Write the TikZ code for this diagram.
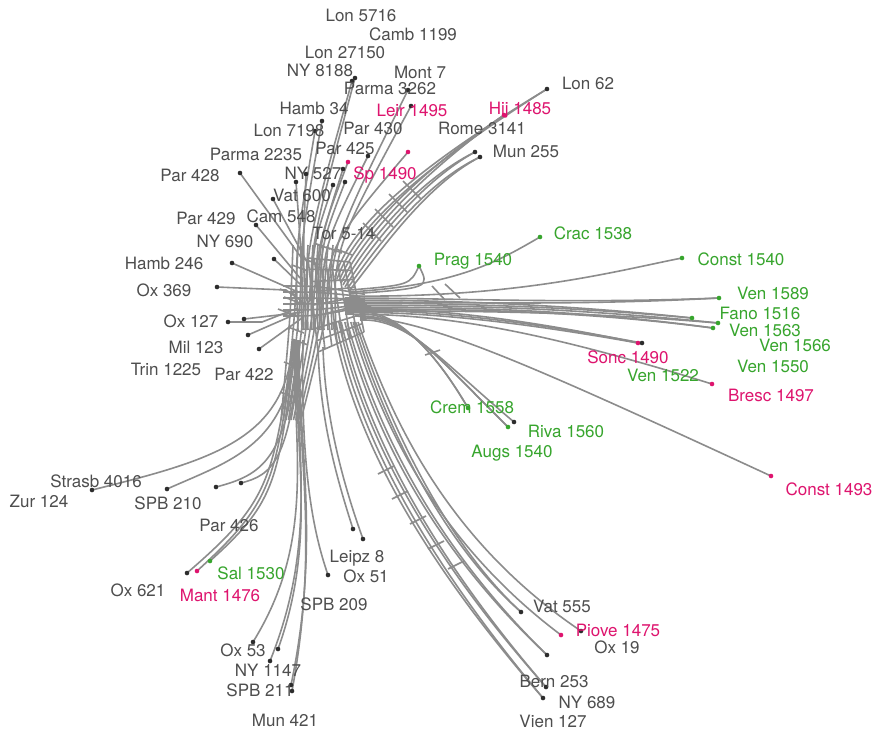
\documentclass[tikz,border=0pt]{standalone}
\usepackage{fontspec}
\setmainfont{TeX Gyre Heros}
\usetikzlibrary{calc}
\definecolor{lnk}{RGB}{140,140,140}
\definecolor{dk}{RGB}{45,45,45}
\definecolor{txt}{RGB}{78,78,78}
\definecolor{mag}{RGB}{222,20,110}
\definecolor{grn}{RGB}{55,165,45}
\tikzset{
  lk/.style={draw=lnk,line width=1.6pt},
  leafdot/.style={circle,inner sep=0pt,minimum size=4.6pt,fill=#1},
  leafdot/.default=dk,
  lab/.style={inner sep=0pt,font=\fontsize{17}{19}\selectfont,text=#1},
  lab/.default=txt,
}
\begin{document}
\begin{tikzpicture}[x=1pt,y=-1pt]
\path[use as bounding box,fill=white] (0,0) rectangle (877,732);
% ---------- hubs ----------
\coordinate (hC) at (318,300);
\coordinate (hT) at (315,250);
\coordinate (hR) at (370,300);
\coordinate (hD) at (292,400);
\coordinate (mTL) at (308,258);
\coordinate (mTR) at (350,262);
\coordinate (mBL) at (318,352);
\coordinate (mBR) at (364,332);
% ---------- leaves ----------
\foreach \n/\x/\y in {
 t1/355/78, t2/352/81, t3/408/90, t4/411/106, t5/322/121, t6/315/131,
 t7/368/156, t8/348/162, t9/408/152, t10/240/173, t11/306/174, t12/343/169,
 t13/296/182, t14/333/185, t15/345/182, t16/273/199,
 l1/256/225, l2/274/259, l3/232/263, l4/217/287, l5/228/322, l6/244/319,
 l7/248/335, l8/259/349,
 r1/547/89, r2/504/115, r3/475/152, r4/480/157,
 g1/540/237, g2/419/266, g3/682/258, g4/719/298, g5/692/318, g6/718/323,
 g7/713/328, s1/638/343, s2/642/343, b1/712/384, c1/771/476,
 g8/468/408, g9/514/422, g10/508/427,
 w1/92/490, w2/167/489, w3/216/487, w4/241/483, w5/187/573, w6/197/571, w7/210/561,
 d1/353/529, d2/363/539, d3/328/575, d4/253/642, d5/278/649, d6/270/661,
 d7/292/691, d8/291/685,
 e1/521/612, e2/561/635, e3/581/631, e4/547/655, e5/546/687, e6/543/698}
 { \coordinate (\n) at (\x,\y); }
% ---------- central mesh ----------
\foreach \o in {-22,-17,...,18}
  \draw[lk] ($(hT)+(\o,-5)$) .. controls ($(hC)+(\o*0.9-8,20)$) .. ($(hD)+(\o*0.5,20)$);
\foreach \s in {0,0.15,0.3,0.42,0.55,0.7,0.85,1}
  \draw[lk] ($(mTL)!\s!(mTR)$) -- ($(mBL)!\s!(mBR)$);
\foreach \s in {0,0.12,0.25,0.36,0.5,0.62,0.75,0.88,1}
  \draw[lk] ($(mTL)!\s!(mBL)$) -- ($(mTR)!\s!(mBR)$);
\foreach \o in {-14,-8,...,16}
  \draw[lk] ($(hC)+(-35,\o)$) .. controls ($(hC)+(0,\o)$) .. ($(hR)+(-5,\o*0.4)$);
\foreach \a/\b in {288/292, 292/300, 286/312, 300/268, 312/262, 296/330, 300/342, 292/365, 296/378, 288/395, 322/246, 334/250, 344/252}
  \draw[lk] (\a-8,\b-3) -- (\a+8,\b+3);
% ---------- top bundle ----------
\foreach \n/\dx in {t1/-6,t2/-10,t3/14,t4/18,t5/-16,t6/-20,t7/6,t8/0,t9/10,t11/-12,t12/2,t13/-14,t14/-4,t15/4}
  \draw[lk] ($(hC)+(\dx,30)$) .. controls ($(hT)+(\dx,0)$) .. (\n);
\draw[lk] ($(hT)+(-12,10)$) -- (t10);
\draw[lk] ($(hT)+(-8,12)$) -- (t16);
% ---------- left ----------
\draw[lk] ($(hC)+(-18,-22)$) -- (l1);
\draw[lk] ($(hC)+(-16,-14)$) -- (l2);
\draw[lk] ($(hC)+(-20,-8)$) -- (l3);
\draw[lk] ($(hC)+(-18,0)$) -- ($(hC)+(-32,-10)$) -- (l4);
\draw[lk] ($(hC)+(-20,8)$) -- ($(hC)+(-56,22)$) -- (l5);
\draw[lk] ($(hC)+(-14,12)$) -- (l6);
\draw[lk] ($(hC)+(-22,14)$) -- (l7);
\draw[lk] ($(hC)+(-16,18)$) -- (l8);
% ---------- upper right ----------
\foreach \n/\o in {r1/-10,r1/-6,r2/-2,r2/2,r3/6,r3/10,r4/14,r4/18}
  \draw[lk] ($(mTR)+(-10+\o*0.5,\o*0.5+20)$) .. controls ($(mTR)+(10+\o,-25+\o)$) and ($(mTR)+(65+\o*0.5,-85+\o*0.5)$) .. (\n);
\foreach \x/\y in {372/232,384/218,398/203,412/190}
  \draw[lk] (\x-9,\y-9) -- (\x+9,\y+9);
% ---------- right ----------
\draw[lk] ($(hR)+(-20,-10)$) .. controls ($(hR)+(40,-15)$) .. (g2);
\draw[lk] ($(hR)+(-20,-6)$) .. controls ($(hR)+(60,-12)$) .. (g2);
\draw[lk] ($(hR)+(-20,-8)$) .. controls ($(hR)+(90,-15)$) and ($(hR)+(130,-40)$) .. (g1);
\draw[lk] ($(hR)+(-20,-4)$) .. controls ($(hR)+(150,-2)$) and ($(hR)+(250,-30)$) .. (g3);
\foreach \n/\o in {g4/-2,g5/0,g5/3,g6/5,g7/7,g7/9,g4/2,g6/11}
  \draw[lk] ($(hR)+(-25,\o)$) .. controls ($(hR)+(80,\o)$) and ($(hR)+(200,\o*0.5+5)$) .. (\n);
\foreach \n/\o in {s1/8,s2/10,s1/12,b1/14}
  \draw[lk] ($(hR)+(-25,\o)$) .. controls ($(hR)+(60,\o)$) and ($(hR)+(150,\o+10)$) .. (\n);
\draw[lk] ($(hR)+(-15,16)$) .. controls ($(hR)+(60,20)$) and ($(hR)+(150,60)$) .. (c1);
\draw[lk] (432,286) -- (445,300);
\draw[lk] (445,284) -- (460,298);
% ---------- crem / riva ----------
\foreach \n/\o in {g8/0,g8/4,g10/8,g10/12,g9/16}
  \draw[lk] ($(hR)+(-10,12+\o*0.5)$) .. controls ($(hR)+(30+\o*0.5,10+\o*0.5)$) and ($(hR)+(70,60)$) .. (\n);
\draw[lk] (425,355) -- (440,350);
% ---------- bottom right long bundle ----------
\foreach \n/\o in {e1/36,e1/32,e2/28,e3/40,e4/22,e4/18,e5/12,e5/8,e6/3,e6/-2}
  \draw[lk] ($(mBR)+(-30+\o*0.6,-10)$) .. controls ($(mBR)+(-12+\o,90)$) and ($(mBR)+(45+\o,210)$) .. (\n);
\foreach \x/\y in {386/470, 400/495, 418/520, 436/545, 456/565}
  \draw[lk] (\x-8,\y+4) -- (\x+8,\y-4);
% ---------- down ----------
\foreach \n/\o in {d4/-6,d5/-2,d6/2,d7/6,d8/10}
  \draw[lk] ($(hC)+(-22+\o*0.3,40)$) .. controls ($(hD)+(3+\o*0.3,50)$) and ($(hD)+(26+\o*0.3,140)$) .. (\n);
\draw[lk] ($(hC)+(-15,40)$) .. controls ($(hD)+(8,80)$) and ($(hD)+(24,140)$) .. (d3);
\draw[lk] ($(mBL)+(0,-5)$) .. controls ($(mBL)+(2,70)$) and ($(mBL)+(20,130)$) .. (d1);
\draw[lk] ($(mBL)+(5,-5)$) .. controls ($(mBL)+(7,70)$) and ($(mBL)+(28,140)$) .. (d2);
% ---------- lower left ----------
\draw[lk] ($(hC)+(-25,40)$) .. controls ($(hD)+(-5,40)$) and ($(hD)+(-80,60)$) .. (w1);
\draw[lk] ($(hC)+(-22,40)$) .. controls ($(hD)+(-2,45)$) and ($(hD)+(-60,60)$) .. (w2);
\draw[lk] ($(hC)+(-20,42)$) .. controls ($(hD)+(-4,60)$) and ($(hD)+(-30,75)$) .. (w3);
\draw[lk] ($(hC)+(-18,42)$) .. controls ($(hD)+(-2,62)$) and ($(hD)+(-20,75)$) .. (w4);
\foreach \n/\o in {w5/0,w6/3,w7/6}
  \draw[lk] ($(hC)+(-24+\o*0.3,40)$) .. controls ($(hD)+(-20+\o,80)$) and ($(hD)+(-20+\o,100)$) .. (\n);
% ---------- dots ----------
\foreach \n/\c in {t1/dk,t2/dk,t3/dk,t4/dk,t5/dk,t6/dk,t7/dk,t8/mag,t9/mag,t10/dk,t11/dk,t12/dk,t13/dk,t14/dk,t15/dk,t16/dk,
 l1/dk,l2/dk,l3/dk,l4/dk,l5/dk,l6/dk,l7/dk,l8/dk,r1/dk,r2/mag,r3/dk,r4/dk,
 g1/grn,g2/grn,g3/grn,g4/grn,g5/grn,g6/grn,g7/grn,s1/mag,s2/dk,b1/mag,c1/mag,g8/grn,g9/dk,g10/grn,
 w1/dk,w2/dk,w3/dk,w4/dk,w5/dk,w6/mag,w7/grn,d1/dk,d2/dk,d3/dk,d4/dk,d5/dk,d6/dk,d7/dk,d8/dk,
 e1/dk,e2/mag,e3/dk,e4/dk,e5/dk,e6/dk}
 { \node[leafdot=\c] at (\n) {}; }
% ---------- labels ----------
\foreach \n/\x/\y/\c/\t in {
 L1/361/15/txt/Lon 5716, L2/413/34/txt/Camb 1199, L3/345/52/txt/Lon 27150, L4/320/70/txt/NY 8188,
 L5/420/72/txt/Mont 7, L6/390/88/txt/Parma 3262, L7/314/108/txt/Hamb 34, L8/412/110/mag/Leir 1495,
 L9/520/110/mag/Hij 1485, L10/588/83/txt/Lon 62, L11/289/130/txt/Lon 7198, L12/373/128/txt/Par 430,
 L13/482/128/txt/Rome 3141, L14/345/148/txt/Par 425, L15/526/151/txt/Mun 255, L16/256/154/txt/Parma 2235,
 L17/190/175/txt/Par 428, L18/313/173/txt/NY 527, L19/385/175/mag/Sp 1490, L20/302/195/txt/Vat 600,
 L21/206/218/txt/Par 429, L22/281/216/txt/Cam 548, L23/344/233/txt/Tor 5-14, L24/593/233/grn/Crac 1538,
 L25/225/241/txt/NY 690, L26/741/259/grn/Const 1540, L27/473/261/grn/Prag 1540, L28/164/263/txt/Hamb 246,
 L29/164/290/txt/Ox 369, L30/773/293/grn/Ven 1589, L31/760/313/grn/Fano 1516, L32/191/321/txt/Ox 127,
 L33/765/330/grn/Ven 1563, L34/795/345/grn/Ven 1566, L35/196/347/txt/Mil 123, L36/628/357/mag/Sonc 1490,
 L37/773/366/grn/Ven 1550, L38/166/369/txt/Trin 1225, L39/244/374/txt/Par 422, L40/663/375/grn/Ven 1522,
 L41/771/395/mag/Bresc 1497, L42/472/407/grn/Crem 1558, L43/566/431/grn/Riva 1560, L44/512/453/grn/Augs 1540,
 L45/96/481/txt/Strasb 4016, L46/829/489/mag/Const 1493, L47/39/501/txt/Zur 124, L48/168/503/txt/SPB 210,
 L49/229/525/txt/Par 426, L50/357/558/txt/Leipz 8, L51/251/573/grn/Sal 1530, L52/366/576/txt/Ox 51,
 L53/138/590/txt/Ox 621, L54/220/595/mag/Mant 1476, L55/334/604/txt/SPB 209, L56/562/606/txt/Vat 555,
 L57/618/630/mag/Piove 1475, L58/243/650/txt/Ox 53, L59/617/647/txt/Ox 19, L60/268/670/txt/NY 1147,
 L61/554/681/txt/Bern 253, L62/260/690/txt/SPB 211, L63/587/702/txt/NY 689, L64/285/720/txt/Mun 421,
 L65/553/721/txt/Vien 127}
 { \node[lab=\c] (\n) at (\x,\y) {\t}; }
\end{tikzpicture}
\end{document}
